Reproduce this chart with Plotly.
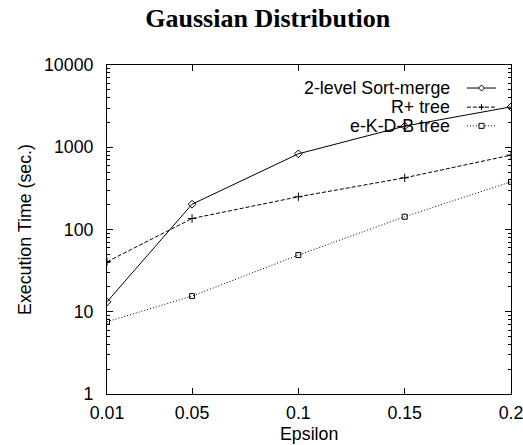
import plotly.graph_objects as go

epsilon = [0.01, 0.05, 0.1, 0.15, 0.2]
x_ticks = [0.01, 0.05, 0.1, 0.15, 0.2]
x_tick_labels = ["0.01", "0.05", "0.1", "0.15", "0.2"]
y_ticks = [1, 10, 100, 1000, 10000]
y_tick_labels = ["1", "10", "100", "1000", "10000"]

sort_merge = [13.2, 203, 832, 1805, 3095]
r_plus_tree = [40.5, 136, 250, 425, 802]
ekdb_tree = [7.56, 15.5, 48.9, 143, 380]

series_names = ["2-level Sort-merge", "R+ tree", "e-K-D-B tree"]

FONT = "Liberation Sans, Arial, sans-serif"
FS = 17.8

fig = go.Figure()
fig.add_trace(go.Scatter(x=epsilon, y=sort_merge, mode="lines+markers", name=series_names[0],
                         line=dict(color="black", width=1),
                         marker=dict(symbol="diamond-open", size=6, color="black", line=dict(width=1))))
fig.add_trace(go.Scatter(x=epsilon, y=r_plus_tree, mode="lines+markers", name=series_names[1],
                         line=dict(color="black", width=1, dash="4px,2px"),
                         marker=dict(symbol="cross-thin-open", size=6, color="black", line=dict(width=1, color="black"))))
fig.add_trace(go.Scatter(x=epsilon, y=ekdb_tree, mode="lines+markers", name=series_names[2],
                         line=dict(color="black", width=1, dash="1px,2px"),
                         marker=dict(symbol="square-open", size=5, color="black", line=dict(width=1))))

# Custom gnuplot-style legend (text left of sample)
rows = [0.930, 0.872, 0.815]
dashes = ["solid", "4px,2px", "1px,2px"]
lx0, lx1, lmid = 0.891, 0.963, 0.927
shapes = []
annotations = []
for name, yy, dsh in zip(series_names, rows, dashes):
    annotations.append(dict(x=0.854, y=yy, xref="paper", yref="paper", text=name, showarrow=False,
                            xanchor="right", yanchor="middle", font=dict(family=FONT, size=FS, color="black")))
    shapes.append(dict(type="line", xref="paper", yref="paper", x0=lx0, x1=lx1, y0=yy, y1=yy,
                       line=dict(color="black", width=1, dash=dsh)))
shapes.append(dict(type="path", xref="paper", yref="paper", xsizemode="pixel", ysizemode="pixel",
                   xanchor=lmid, yanchor=rows[0], path="M-3,0L0,3L3,0L0,-3Z",
                   line=dict(color="black", width=1), fillcolor="white"))
shapes.append(dict(type="path", xref="paper", yref="paper", xsizemode="pixel", ysizemode="pixel",
                   xanchor=lmid, yanchor=rows[1], path="M-3,0H3M0,-3V3",
                   line=dict(color="black", width=1)))
shapes.append(dict(type="rect", xref="paper", yref="paper", xsizemode="pixel", ysizemode="pixel",
                   xanchor=lmid, yanchor=rows[2], x0=-2.5, x1=2.5, y0=-2.5, y1=2.5,
                   line=dict(color="black", width=1), fillcolor="white"))

# x-axis title as annotation (placed close under the tick labels)
annotations.append(dict(x=0.5, y=-0.123, xref="paper", yref="paper", text="Epsilon", showarrow=False,
                        xanchor="center", yanchor="middle", font=dict(family=FONT, size=FS, color="black")))

minor_vals = [m * 10 ** e for e in range(0, 4) for m in range(2, 10)]

fig.update_layout(
    width=523, height=445,
    margin=dict(l=107, r=12, t=65, b=51),
    paper_bgcolor="white", plot_bgcolor="white",
    showlegend=False,
    title=dict(text="<b>Gaussian Distribution</b>", x=0.512, xref="container", xanchor="center",
               y=1 - 18 / 445, yref="container", yanchor="middle",
               font=dict(family="Liberation Serif, Times New Roman, serif", size=26, color="black")),
    font=dict(family=FONT, size=FS, color="black"),
    shapes=shapes,
    annotations=annotations,
)
fig.update_xaxes(range=[0.01, 0.2], tickvals=x_ticks, ticktext=x_tick_labels,
                 showline=True, linecolor="black", linewidth=1, mirror="allticks",
                 ticks="inside", ticklen=6, tickcolor="black", showgrid=False, zeroline=False,
                 ticklabelstandoff=3, automargin=False, ticklabeloverflow="allow",
                 tickfont=dict(family=FONT, size=FS))
fig.update_yaxes(type="log", range=[0, 4], tickvals=y_ticks, ticktext=y_tick_labels,
                 showline=True, linecolor="black", linewidth=1, mirror="allticks",
                 ticks="inside", ticklen=6, tickcolor="black", showgrid=False, zeroline=False,
                 ticklabelstandoff=9, automargin=False, ticklabeloverflow="allow",
                 minor=dict(tickvals=minor_vals, ticks="inside", ticklen=3, tickcolor="black", showgrid=False),
                 title=dict(text="Execution Time (sec.)", standoff=7, font=dict(family=FONT, size=FS)),
                 tickfont=dict(family=FONT, size=FS))

fig.write_html("out.html", config={"displayModeBar": False},
               post_script="document.body.style.margin='0';document.body.style.overflow='hidden';")
